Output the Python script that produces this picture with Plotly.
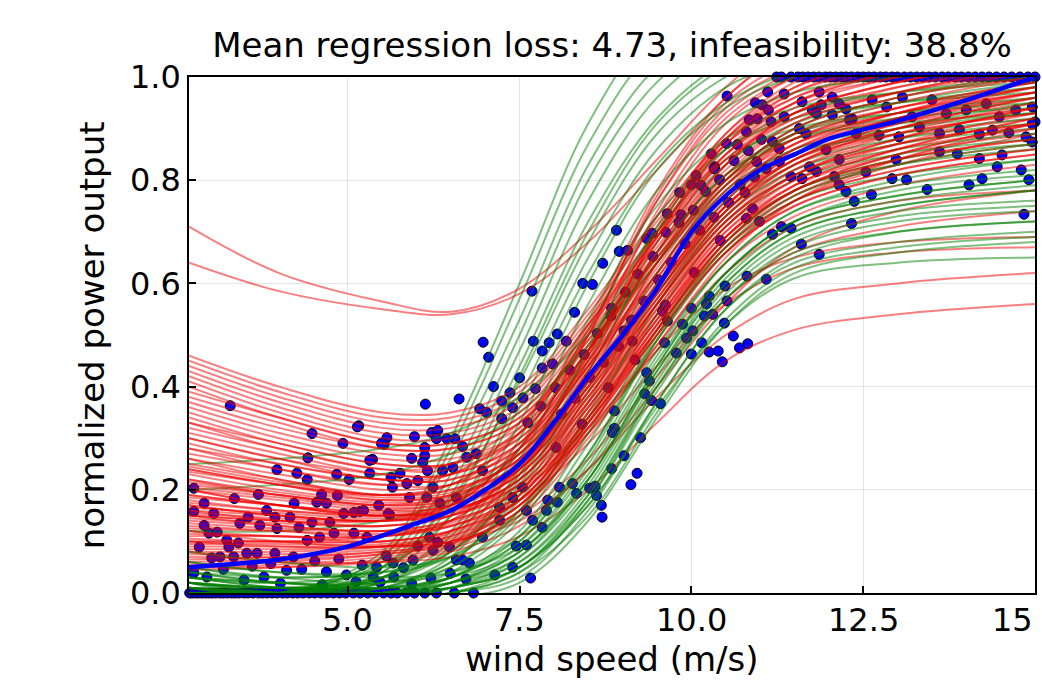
import plotly.graph_objects as go

# ---------------- data ----------------
knots_x = [2.69, 4.0, 5.5, 6.5, 7.5, 8.5, 9.5, 10.5, 11.5, 13.0, 15.0]

red_curves = [
    [0.71, 0.62, 0.565, 0.545, 0.59, 0.70, 0.84, 0.98, 1.08, 1.15, 1.20],
    [0.64, 0.585, 0.55, 0.54, 0.58, 0.68, 0.82, 0.96, 1.06, 1.12, 1.18],
    [0.20, 0.17, 0.15, 0.17, 0.28, 0.50, 0.77, 0.95, 1.03, 1.08, 1.10],
    [0.26, 0.22, 0.19, 0.21, 0.31, 0.51, 0.76, 0.93, 1.01, 1.06, 1.08],
    [0.12, 0.11, 0.11, 0.14, 0.25, 0.47, 0.74, 0.92, 1.00, 1.05, 1.08],
    [0.33, 0.28, 0.24, 0.25, 0.33, 0.50, 0.73, 0.91, 1.00, 1.06, 1.10],
    [0.17, 0.15, 0.14, 0.16, 0.26, 0.46, 0.71, 0.89, 0.98, 1.03, 1.06],
    [0.08, 0.08, 0.09, 0.12, 0.23, 0.44, 0.70, 0.88, 0.97, 1.02, 1.05],
    [0.30, 0.26, 0.22, 0.23, 0.31, 0.47, 0.69, 0.87, 0.96, 1.02, 1.06],
    [0.22, 0.19, 0.17, 0.19, 0.28, 0.46, 0.70, 0.89, 0.99, 1.05, 1.08],
    [0.28, 0.24, 0.21, 0.23, 0.32, 0.52, 0.78, 0.96, 1.05, 1.10, 1.12],
    [0.15, 0.14, 0.14, 0.17, 0.28, 0.50, 0.76, 0.94, 1.02, 1.07, 1.10],
    [0.46, 0.40, 0.35, 0.35, 0.40, 0.55, 0.73, 0.88, 0.96, 1.01, 1.05],
    [0.44, 0.38, 0.33, 0.33, 0.38, 0.53, 0.70, 0.85, 0.93, 0.98, 1.02],
    [0.42, 0.36, 0.31, 0.31, 0.36, 0.52, 0.70, 0.86, 0.95, 1.01, 1.06],
    [0.40, 0.34, 0.29, 0.29, 0.34, 0.49, 0.66, 0.81, 0.89, 0.94, 0.98],
    [0.38, 0.33, 0.28, 0.28, 0.33, 0.49, 0.67, 0.83, 0.92, 0.98, 1.03],
    [0.36, 0.31, 0.27, 0.27, 0.32, 0.47, 0.64, 0.79, 0.87, 0.92, 0.96],
    [0.35, 0.30, 0.26, 0.26, 0.31, 0.47, 0.65, 0.82, 0.91, 0.97, 1.02],
    [0.34, 0.29, 0.25, 0.25, 0.30, 0.45, 0.62, 0.78, 0.86, 0.91, 0.95],
    [0.32, 0.28, 0.24, 0.24, 0.30, 0.46, 0.64, 0.80, 0.90, 0.96, 1.01],
    [0.31, 0.27, 0.23, 0.23, 0.29, 0.44, 0.61, 0.77, 0.85, 0.90, 0.94],
    [0.29, 0.25, 0.22, 0.22, 0.28, 0.44, 0.62, 0.79, 0.88, 0.94, 0.99],
    [0.27, 0.24, 0.21, 0.21, 0.27, 0.42, 0.59, 0.75, 0.84, 0.89, 0.93],
    [0.25, 0.22, 0.19, 0.20, 0.26, 0.42, 0.60, 0.77, 0.87, 0.93, 0.98],
    [0.24, 0.21, 0.18, 0.19, 0.25, 0.40, 0.57, 0.73, 0.82, 0.88, 0.92],
    [0.23, 0.20, 0.18, 0.19, 0.25, 0.41, 0.59, 0.76, 0.86, 0.92, 0.97],
    [0.21, 0.19, 0.17, 0.18, 0.24, 0.39, 0.56, 0.72, 0.81, 0.87, 0.91],
    [0.20, 0.18, 0.16, 0.17, 0.24, 0.40, 0.58, 0.75, 0.85, 0.92, 0.98],
    [0.19, 0.17, 0.15, 0.17, 0.23, 0.39, 0.57, 0.74, 0.84, 0.91, 0.96],
    [0.18, 0.16, 0.15, 0.16, 0.22, 0.37, 0.54, 0.70, 0.79, 0.85, 0.89],
    [0.16, 0.15, 0.14, 0.16, 0.22, 0.38, 0.56, 0.73, 0.83, 0.90, 0.96],
    [0.15, 0.14, 0.13, 0.15, 0.21, 0.36, 0.53, 0.69, 0.78, 0.84, 0.88],
    [0.14, 0.13, 0.12, 0.14, 0.20, 0.36, 0.54, 0.71, 0.81, 0.88, 0.94],
    [0.13, 0.12, 0.11, 0.13, 0.19, 0.34, 0.51, 0.67, 0.76, 0.82, 0.86],
    [0.11, 0.11, 0.10, 0.12, 0.18, 0.34, 0.52, 0.69, 0.79, 0.86, 0.92],
    [0.10, 0.10, 0.10, 0.12, 0.18, 0.33, 0.50, 0.66, 0.75, 0.81, 0.85],
    [0.09, 0.09, 0.09, 0.11, 0.17, 0.33, 0.51, 0.68, 0.78, 0.85, 0.91],
    [0.07, 0.07, 0.08, 0.10, 0.17, 0.32, 0.50, 0.67, 0.77, 0.84, 0.90],
    [0.06, 0.065, 0.075, 0.095, 0.16, 0.31, 0.48, 0.64, 0.73, 0.79, 0.83],
    [0.05, 0.055, 0.07, 0.09, 0.16, 0.31, 0.49, 0.66, 0.76, 0.83, 0.89],
    [0.045, 0.05, 0.065, 0.085, 0.15, 0.30, 0.48, 0.65, 0.76, 0.84, 0.91],
    [0.08, 0.06, 0.06, 0.07, 0.11, 0.20, 0.33, 0.45, 0.51, 0.54, 0.56],
    [0.12, 0.10, 0.09, 0.10, 0.14, 0.24, 0.38, 0.50, 0.57, 0.60, 0.62],
    [0.15, 0.13, 0.12, 0.13, 0.18, 0.29, 0.44, 0.56, 0.63, 0.66, 0.67],
    [0.20, 0.17, 0.15, 0.16, 0.21, 0.32, 0.47, 0.59, 0.65, 0.68, 0.69],
    [0.10, 0.09, 0.09, 0.10, 0.15, 0.26, 0.42, 0.57, 0.66, 0.71, 0.74],
    [0.17, 0.15, 0.14, 0.15, 0.20, 0.31, 0.47, 0.62, 0.71, 0.76, 0.78],
    [0.05, 0.05, 0.06, 0.08, 0.13, 0.24, 0.40, 0.56, 0.67, 0.74, 0.78],
    [0.45, 0.39, 0.34, 0.34, 0.39, 0.54, 0.72, 0.87, 0.95, 1.00, 1.04],
    [0.43, 0.37, 0.32, 0.32, 0.37, 0.52, 0.69, 0.84, 0.92, 0.97, 1.01],
    [0.41, 0.35, 0.30, 0.30, 0.35, 0.51, 0.69, 0.85, 0.94, 1.00, 1.04],
    [0.39, 0.34, 0.29, 0.29, 0.34, 0.50, 0.68, 0.84, 0.93, 0.99, 1.03],
    [0.37, 0.32, 0.28, 0.28, 0.33, 0.48, 0.65, 0.80, 0.88, 0.93, 0.97],
    [0.33, 0.29, 0.25, 0.25, 0.31, 0.47, 0.66, 0.83, 0.93, 0.99, 1.04],
    [0.30, 0.26, 0.23, 0.23, 0.29, 0.45, 0.64, 0.81, 0.91, 0.97, 1.02],
    [0.28, 0.25, 0.22, 0.22, 0.28, 0.44, 0.63, 0.80, 0.90, 0.96, 1.00],
    [0.26, 0.23, 0.20, 0.21, 0.27, 0.43, 0.62, 0.79, 0.89, 0.95, 1.00],
    [0.245, 0.215, 0.19, 0.20, 0.26, 0.42, 0.61, 0.78, 0.88, 0.94, 0.99],
    [0.235, 0.21, 0.185, 0.195, 0.26, 0.41, 0.59, 0.75, 0.84, 0.90, 0.94],
    [0.22, 0.195, 0.175, 0.185, 0.25, 0.41, 0.60, 0.77, 0.87, 0.93, 0.98],
    [0.215, 0.19, 0.17, 0.18, 0.24, 0.40, 0.58, 0.74, 0.83, 0.89, 0.93],
    [0.205, 0.185, 0.165, 0.175, 0.24, 0.40, 0.59, 0.76, 0.86, 0.93, 0.99],
    [0.185, 0.17, 0.155, 0.17, 0.23, 0.39, 0.58, 0.75, 0.85, 0.92, 0.97],
    [0.175, 0.16, 0.15, 0.165, 0.23, 0.38, 0.56, 0.72, 0.81, 0.87, 0.91],
    [0.165, 0.155, 0.145, 0.16, 0.22, 0.38, 0.57, 0.74, 0.84, 0.91, 0.97],
    [0.155, 0.145, 0.14, 0.155, 0.22, 0.37, 0.55, 0.71, 0.80, 0.86, 0.90],
    [0.145, 0.135, 0.13, 0.15, 0.21, 0.37, 0.56, 0.73, 0.83, 0.90, 0.96],
    [0.135, 0.125, 0.12, 0.14, 0.20, 0.36, 0.55, 0.72, 0.82, 0.89, 0.95],
    [0.125, 0.12, 0.115, 0.135, 0.20, 0.35, 0.53, 0.69, 0.78, 0.84, 0.88],
    [0.115, 0.11, 0.11, 0.13, 0.19, 0.35, 0.54, 0.71, 0.81, 0.88, 0.94],
    [0.105, 0.10, 0.10, 0.12, 0.19, 0.34, 0.52, 0.68, 0.77, 0.83, 0.87],
    [0.095, 0.095, 0.095, 0.115, 0.18, 0.34, 0.53, 0.70, 0.80, 0.87, 0.93],
    [0.085, 0.085, 0.09, 0.11, 0.18, 0.33, 0.51, 0.67, 0.76, 0.82, 0.86],
    [0.075, 0.075, 0.085, 0.105, 0.17, 0.33, 0.52, 0.69, 0.79, 0.86, 0.92],
    [0.065, 0.07, 0.08, 0.10, 0.17, 0.32, 0.50, 0.66, 0.75, 0.81, 0.85],
    [0.055, 0.06, 0.075, 0.095, 0.16, 0.32, 0.51, 0.68, 0.78, 0.85, 0.91],
    [0.19, 0.17, 0.16, 0.18, 0.27, 0.45, 0.68, 0.87, 0.97, 1.03, 1.07],
    [0.24, 0.21, 0.19, 0.21, 0.29, 0.47, 0.69, 0.88, 0.98, 1.04, 1.07],
    [0.10, 0.10, 0.11, 0.14, 0.24, 0.43, 0.66, 0.85, 0.95, 1.01, 1.04],
    [0.16, 0.14, 0.13, 0.15, 0.24, 0.42, 0.64, 0.83, 0.93, 0.99, 1.03],
]

green_curves = [
    [0.00, 0.00, 0.08, 0.30, 0.60, 0.91, 1.10, 1.16, 1.18, 1.19, 1.20],
    [0.01, 0.00, 0.07, 0.28, 0.57, 0.87, 1.06, 1.13, 1.16, 1.18, 1.19],
    [0.02, 0.00, 0.07, 0.26, 0.53, 0.83, 1.02, 1.10, 1.12, 1.14, 1.15],
    [0.00, 0.00, 0.06, 0.23, 0.50, 0.80, 0.99, 1.08, 1.11, 1.13, 1.14],
    [0.01, 0.00, 0.05, 0.21, 0.47, 0.76, 0.96, 1.06, 1.10, 1.12, 1.13],
    [0.00, -0.01, 0.04, 0.19, 0.44, 0.72, 0.92, 1.03, 1.08, 1.10, 1.11],
    [0.00, 0.00, 0.04, 0.17, 0.42, 0.70, 0.91, 1.02, 1.07, 1.10, 1.12],
    [0.03, 0.02, 0.05, 0.18, 0.41, 0.68, 0.89, 1.00, 1.05, 1.08, 1.10],
    [0.00, 0.00, 0.03, 0.15, 0.38, 0.65, 0.86, 0.98, 1.03, 1.06, 1.08],
    [0.05, 0.03, 0.05, 0.15, 0.36, 0.62, 0.83, 0.95, 1.01, 1.04, 1.06],
    [0.02, 0.01, 0.03, 0.12, 0.33, 0.60, 0.82, 0.94, 1.00, 1.03, 1.05],
    [0.25, 0.26, 0.28, 0.31, 0.38, 0.50, 0.65, 0.80, 0.90, 0.96, 1.00],
    [0.20, 0.21, 0.23, 0.27, 0.35, 0.48, 0.64, 0.79, 0.89, 0.95, 0.99],
    [0.12, 0.12, 0.14, 0.18, 0.27, 0.41, 0.58, 0.74, 0.84, 0.90, 0.95],
    [0.01, 0.00, 0.03, 0.11, 0.30, 0.56, 0.78, 0.91, 0.97, 1.00, 1.02],
    [0.00, 0.00, 0.02, 0.10, 0.28, 0.53, 0.75, 0.88, 0.94, 0.97, 0.99],
    [0.02, 0.01, 0.02, 0.09, 0.26, 0.51, 0.73, 0.86, 0.92, 0.95, 0.97],
    [0.00, 0.00, 0.02, 0.08, 0.24, 0.48, 0.71, 0.86, 0.93, 0.97, 1.00],
    [0.00, -0.01, 0.01, 0.07, 0.23, 0.47, 0.70, 0.84, 0.90, 0.93, 0.95],
    [0.02, 0.01, 0.03, 0.08, 0.22, 0.45, 0.68, 0.83, 0.91, 0.95, 0.98],
    [0.04, 0.03, 0.04, 0.08, 0.21, 0.43, 0.66, 0.81, 0.89, 0.93, 0.96],
    [0.04, 0.02, 0.02, 0.06, 0.20, 0.43, 0.66, 0.81, 0.88, 0.91, 0.93],
    [0.00, -0.01, 0.01, 0.06, 0.19, 0.41, 0.64, 0.80, 0.88, 0.92, 0.94],
    [0.06, 0.04, 0.04, 0.07, 0.18, 0.39, 0.62, 0.78, 0.86, 0.90, 0.93],
    [0.01, 0.00, 0.01, 0.05, 0.16, 0.37, 0.60, 0.76, 0.85, 0.89, 0.92],
    [0.03, 0.02, 0.02, 0.05, 0.15, 0.35, 0.58, 0.74, 0.83, 0.88, 0.91],
    [0.08, 0.06, 0.05, 0.07, 0.16, 0.34, 0.56, 0.72, 0.81, 0.86, 0.89],
    [0.00, 0.00, 0.00, 0.04, 0.14, 0.33, 0.56, 0.73, 0.82, 0.87, 0.90],
    [0.00, 0.00, 0.00, 0.03, 0.12, 0.31, 0.54, 0.71, 0.80, 0.85, 0.88],
    [0.02, 0.01, 0.01, 0.03, 0.11, 0.29, 0.51, 0.68, 0.78, 0.83, 0.86],
    [0.01, 0.00, 0.00, 0.03, 0.10, 0.27, 0.50, 0.68, 0.78, 0.84, 0.87],
    [0.05, 0.03, 0.02, 0.04, 0.11, 0.27, 0.49, 0.66, 0.76, 0.81, 0.84],
    [0.00, -0.01, -0.01, 0.02, 0.09, 0.25, 0.47, 0.64, 0.74, 0.79, 0.82],
    [0.01, 0.00, 0.00, 0.02, 0.08, 0.23, 0.45, 0.62, 0.72, 0.77, 0.80],
    [0.02, 0.00, -0.01, 0.01, 0.07, 0.22, 0.44, 0.62, 0.72, 0.78, 0.81],
    [0.03, 0.01, 0.00, 0.02, 0.08, 0.22, 0.43, 0.60, 0.70, 0.75, 0.78],
    [0.00, -0.01, -0.02, -0.01, 0.02, 0.14, 0.34, 0.52, 0.62, 0.66, 0.68],
    [0.01, -0.01, -0.01, 0.00, 0.03, 0.16, 0.37, 0.55, 0.65, 0.70, 0.72],
    [0.00, 0.00, -0.01, 0.00, 0.04, 0.18, 0.40, 0.58, 0.68, 0.73, 0.75],
    [0.00, -0.01, -0.01, 0.00, 0.05, 0.18, 0.39, 0.57, 0.67, 0.72, 0.74],
    [0.02, 0.00, 0.00, 0.01, 0.05, 0.19, 0.41, 0.59, 0.69, 0.74, 0.76],
    [0.00, -0.01, -0.01, 0.01, 0.06, 0.20, 0.42, 0.60, 0.70, 0.75, 0.78],
    [0.04, 0.02, 0.01, 0.02, 0.06, 0.19, 0.40, 0.57, 0.66, 0.70, 0.72],
    [0.03, 0.01, 0.00, 0.01, 0.05, 0.17, 0.37, 0.55, 0.64, 0.68, 0.70],
    [0.00, 0.00, 0.00, 0.01, 0.05, 0.17, 0.36, 0.52, 0.61, 0.64, 0.65],
    [0.01, 0.00, -0.01, 0.00, 0.04, 0.15, 0.35, 0.53, 0.63, 0.67, 0.69],
    [0.02, 0.01, 0.01, 0.03, 0.08, 0.22, 0.44, 0.62, 0.72, 0.77, 0.80],
    [0.00, 0.00, 0.00, 0.02, 0.07, 0.21, 0.43, 0.61, 0.71, 0.76, 0.79],
    [0.06, 0.04, 0.03, 0.04, 0.09, 0.24, 0.46, 0.64, 0.74, 0.80, 0.84],
    [0.03, 0.02, 0.01, 0.03, 0.10, 0.26, 0.49, 0.67, 0.77, 0.83, 0.87],
]

mean_x = [2.69, 4.0, 5.0, 6.0, 6.5, 7.0, 7.5, 8.0, 8.5, 9.0, 9.5, 10.0, 10.5, 11.0, 11.5, 12.0, 13.0, 14.0, 15.0]
mean_y = [0.05, 0.065, 0.09, 0.135, 0.16, 0.20, 0.25, 0.33, 0.42, 0.50, 0.59, 0.70, 0.77, 0.82, 0.85, 0.88, 0.915, 0.955, 1.0]

# observations resting on the lower bound (y = 0)
floor_x = [2.70, 2.74, 2.79, 2.83, 2.88, 2.93, 2.98, 3.03, 3.08, 3.14, 3.19, 3.25, 3.31, 3.36,
           3.42, 3.49, 3.55, 3.62, 3.70, 3.76, 3.83, 3.90, 3.97, 4.05, 4.12, 4.20, 4.27, 4.35,
           4.44, 4.52, 4.61, 4.70, 4.79, 4.88, 4.97, 5.08, 5.18, 5.29, 5.40, 5.52, 5.63, 5.72,
           5.85, 5.97, 6.12, 6.29, 6.55, 6.83]
# observations resting on the upper bound (y = 1)
ceil_x = [11.24, 11.31, 11.45, 11.55, 11.62, 11.70, 11.78, 11.86, 11.95, 12.02, 12.10, 12.18,
          12.25, 12.33, 12.42, 12.50, 12.58, 12.66, 12.75, 12.83, 12.92, 13.00, 13.10, 13.19,
          13.28, 13.37, 13.46, 13.55, 13.65, 13.74, 13.84, 13.93, 14.03, 14.13, 14.23, 14.33,
          14.44, 14.55, 14.66, 14.78, 14.90, 15.00]

cloud_points = [
    (3.29, 0.363), (4.48, 0.309), (5.16, 0.324), (4.93, 0.29), (5.57, 0.301), (5.53, 0.288),
    (4.42, 0.262), (5.36, 0.259), (3.97, 0.239), (4.26, 0.232), (4.41, 0.22), (4.84, 0.23),
    (5.02, 0.22), (5.32, 0.232), (5.63, 0.224), (5.76, 0.232), (2.76, 0.203), (3.35, 0.183),
    (3.70, 0.191), (4.22, 0.174), (4.62, 0.191), (4.69, 0.174), (4.85, 0.189), (4.55, 0.176),
    (2.91, 0.174), (2.76, 0.158), (3.05, 0.154), (3.82, 0.160), (3.94, 0.147), (4.16, 0.147),
    (3.55, 0.147), (4.48, 0.137), (4.74, 0.137), (4.94, 0.154), (5.18, 0.158), (5.45, 0.17),
    (5.61, 0.151), (2.91, 0.131), (3.72, 0.131), (4.29, 0.127), (3.43, 0.135), (2.98, 0.116),
    (3.10, 0.118), (3.97, 0.125), (4.59, 0.108), (4.80, 0.116), (5.09, 0.116), (5.28, 0.108),
    (3.24, 0.102), (3.41, 0.097), (4.41, 0.102), (2.84, 0.089), (3.27, 0.089), (3.53, 0.077),
    (3.68, 0.077), (3.94, 0.077), (3.14, 0.07), (3.34, 0.07), (4.21, 0.07), (3.02, 0.068),
    (2.76, 0.039), (4.11, 0.044), (4.69, 0.041), (4.98, 0.035), (5.37, 0.031), (5.47, 0.021),
    (5.67, 0.031), (3.78, 0.031), (3.49, 0.025), (2.95, 0.031), (3.61, 0.052), (3.88, 0.057),
    (4.33, 0.046), (4.52, 0.062), (4.87, 0.066), (5.21, 0.054), (5.56, 0.072), (5.81, 0.049),
    (6.02, 0.091), (6.31, 0.098), (6.49, 0.038), (3.19, 0.046), (4.02, 0.019), (4.63, 0.016),
    (5.12, 0.022), (5.93, 0.018), (6.21, 0.029), (6.72, 0.027),
    (6.97, 0.486), (7.05, 0.457), (7.12, 0.40), (6.13, 0.366), (6.62, 0.376), (7.70, 0.488),
    (7.83, 0.469), (7.93, 0.485), (8.05, 0.502), (8.18, 0.488), (7.50, 0.417), (7.73, 0.396),
    (7.36, 0.388), (7.24, 0.372), (6.92, 0.357), (7.02, 0.35), (7.24, 0.338), (7.40, 0.359),
    (7.55, 0.378), (7.98, 0.444), (7.83, 0.436), (5.14, 0.322), (5.49, 0.29), (5.97, 0.303),
    (6.22, 0.311), (6.31, 0.315), (6.29, 0.299), (6.44, 0.299), (6.56, 0.299), (6.67, 0.284),
    (6.12, 0.282), (6.12, 0.266), (5.93, 0.261), (6.09, 0.253), (6.16, 0.237), (6.38, 0.237),
    (6.53, 0.243), (6.73, 0.263), (6.87, 0.27), (6.96, 0.237), (5.32, 0.257), (5.86, 0.212),
    (5.65, 0.205), (6.02, 0.218), (6.24, 0.205), (5.90, 0.185), (6.15, 0.185), (6.34, 0.174),
    (6.58, 0.185), (5.23, 0.16), (5.09, 0.156), (5.59, 0.154), (7.68, 0.585), (8.42, 0.60),
    (8.56, 0.598), (8.71, 0.639), (8.30, 0.544),
    (7.21, 0.166), (7.40, 0.185), (7.54, 0.205), (7.83, 0.127), (7.60, 0.093), (7.40, 0.05),
    (7.14, 0.035), (7.66, 0.029), (6.77, 0.058), (6.58, 0.064), (6.24, 0.083), (5.95, 0.064),
    (5.66, 0.058), (5.42, 0.05), (8.08, 0.205), (8.27, 0.212), (8.05, 0.176), (8.33, 0.193),
    (8.52, 0.203), (8.62, 0.189), (8.69, 0.17), (8.70, 0.147), (8.60, 0.207), (7.45, 0.091),
    (7.89, 0.160), (7.91, 0.18), (7.60, 0.16), (7.69, 0.141), (7.21, 0.141), (6.96, 0.108),
    (6.67, 0.064), (6.48, 0.089), (6.19, 0.108),
    (10.61, 0.498), (10.26, 0.467), (10.39, 0.469), (10.45, 0.448), (10.70, 0.475), (10.82, 0.483),
    (10.0, 0.463), (9.78, 0.465), (9.93, 0.494), (10.15, 0.485), (9.35, 0.427), (9.39, 0.411),
    (9.32, 0.386), (9.42, 0.373), (9.55, 0.367), (8.88, 0.353), (8.88, 0.319), (8.85, 0.311),
    (9.26, 0.301), (9.02, 0.266), (8.84, 0.241), (9.21, 0.232), (9.12, 0.21),
    (8.91, 0.703), (8.95, 0.662), (9.07, 0.664), (9.83, 0.776), (9.65, 0.735), (9.85, 0.733),
    (9.35, 0.687), (9.43, 0.697), (10.07, 0.809), (10.0, 0.791), (10.14, 0.79), (10.34, 0.826),
    (10.49, 0.595), (10.26, 0.575), (10.22, 0.56), (10.0, 0.552), (10.19, 0.537), (10.31, 0.54),
    (9.87, 0.521), (10.02, 0.508), (10.48, 0.523), (10.52, 0.566), (9.61, 0.485), (9.58, 0.546),
    (9.65, 0.527), (8.84, 0.552), (9.02, 0.508), (9.14, 0.488),
    (10.52, 0.963), (11.11, 0.971), (11.35, 0.967), (10.93, 0.95), (11.03, 0.946), (11.12, 0.936),
    (10.84, 0.917), (10.96, 0.919), (11.16, 0.913), (10.80, 0.894), (10.51, 0.871), (10.67, 0.869),
    (10.29, 0.851), (10.33, 0.822), (11.61, 0.952), (11.76, 0.936), (11.86, 0.971), (12.05, 0.961),
    (11.89, 0.946), (11.57, 0.90), (11.67, 0.89), (12.05, 0.927), (12.25, 0.938), (12.34, 0.919),
    (11.18, 0.875), (11.28, 0.861), (10.95, 0.836), (11.09, 0.822), (11.28, 0.836), (11.45, 0.807),
    (11.61, 0.803), (11.82, 0.817), (10.89, 0.745), (10.80, 0.726), (10.99, 0.72), (11.18, 0.695),
    (11.31, 0.71), (11.45, 0.707), (11.60, 0.676), (11.86, 0.656), (10.81, 0.614), (11.09, 0.608),
    (12.33, 0.716), (12.37, 0.759), (12.62, 0.772), (12.25, 0.778), (12.15, 0.791), (12.54, 0.816),
    (12.08, 0.807), (12.98, 0.84), (12.92, 0.803), (13.13, 0.801), (13.43, 0.782), (13.61, 0.855),
    (13.87, 0.851), (14.04, 0.791), (14.19, 0.842), (14.23, 0.803), (14.45, 0.826), (14.52, 0.849),
    (14.80, 0.82), (14.91, 0.801), (14.84, 0.734), (14.96, 0.874), (15.0, 0.913),
    (11.35, 0.923), (11.82, 0.929), (12.15, 0.948), (12.30, 0.917), (12.63, 0.956), (12.84, 0.942),
    (13.07, 0.961), (13.21, 0.923), (13.50, 0.956), (13.71, 0.929), (14.0, 0.936), (14.29, 0.948),
    (14.48, 0.923), (14.72, 0.936), (14.96, 0.942), (12.40, 0.89), (12.73, 0.887), (13.02, 0.884),
    (13.32, 0.903), (13.61, 0.891), (13.90, 0.898), (14.19, 0.889), (14.38, 0.897), (14.62, 0.892),
    (14.87, 0.884), (14.96, 0.909), (11.96, 0.859), (12.15, 0.84), (11.72, 0.826),
    (7.62, 0.33), (7.81, 0.362), (8.02, 0.398), (8.11, 0.347), (8.23, 0.432), (8.31, 0.377),
    (8.44, 0.462), (8.52, 0.418), (8.63, 0.503), (8.72, 0.447), (8.83, 0.537), (8.94, 0.478),
    (9.04, 0.583), (9.13, 0.529), (9.22, 0.618), (9.31, 0.566), (9.44, 0.652), (9.52, 0.607),
    (9.63, 0.699), (9.71, 0.641), (9.82, 0.718), (9.91, 0.677), (10.03, 0.742), (10.12, 0.703),
    (10.21, 0.778), (10.33, 0.728), (10.41, 0.801), (10.54, 0.757), (10.62, 0.838), (10.71, 0.792),
    (10.83, 0.857), (10.92, 0.806), (11.02, 0.879), (8.03, 0.282), (8.41, 0.327), (8.79, 0.398),
    (9.18, 0.452), (9.62, 0.558), (10.04, 0.621), (10.42, 0.683), (10.78, 0.776),
]

title_text = "Mean regression loss: 4.73, infeasibility: 38.8%"
x_label = "wind speed (m/s)"
y_label = "normalized power output"
x_tick_vals = [5.0, 7.5, 10.0, 12.5, 15.0]
x_tick_text = ["5.0", "7.5", "10.0", "12.5", "15"]
y_tick_vals = [0.0, 0.2, 0.4, 0.6, 0.8, 1.0]
y_tick_text = ["0.0", "0.2", "0.4", "0.6", "0.8", "1.0"]

# ---------------- figure ----------------
FONT = "DejaVu Sans"
fig = go.Figure()

obs_x = floor_x + ceil_x + [p[0] for p in cloud_points]
obs_y = [0.0] * len(floor_x) + [1.0] * len(ceil_x) + [p[1] for p in cloud_points]
fig.add_trace(go.Scatter(
    x=obs_x, y=obs_y, mode="markers", cliponaxis=False, hoverinfo="skip",
    marker=dict(size=10, color="rgb(0,0,255)", line=dict(color="black", width=1)),
    showlegend=False,
))

# interleave the red and green sample curves
order = []
gi, ri = 0, 0
while gi < len(green_curves) or ri < len(red_curves):
    if gi < len(green_curves):
        order.append(("g", green_curves[gi])); gi += 1
    for _ in range(2):
        if ri < len(red_curves):
            order.append(("r", red_curves[ri])); ri += 1

for kind, ys in order:
    col = "rgba(240,0,0,0.5)" if kind == "r" else "rgba(0,128,0,0.5)"
    fig.add_trace(go.Scatter(
        x=knots_x, y=ys, mode="lines", hoverinfo="skip",
        line=dict(color=col, width=2.0, shape="spline", smoothing=1.0),
        showlegend=False,
    ))

fig.add_trace(go.Scatter(
    x=mean_x, y=mean_y, mode="lines", hoverinfo="skip",
    line=dict(color="rgb(0,0,255)", width=4.5, shape="spline", smoothing=1.0),
    showlegend=False,
))

axis_common = dict(
    showgrid=True, gridcolor="rgba(0,0,0,0.10)", gridwidth=1,
    zeroline=False, showline=True, linecolor="black", linewidth=1.5, mirror=True,
    ticks="inside", ticklen=7, tickwidth=1.5, tickcolor="black",
    tickfont=dict(family=FONT, size=32, color="black"),
)

# x tick labels placed on the x scale (last one kept inside the page, as in the source)
tick_annotations = []
for i, (v, t) in enumerate(zip(x_tick_vals, x_tick_text)):
    last = i == len(x_tick_vals) - 1
    tick_annotations.append(dict(
        text=t, x=v, y=0, xref="x", yref="y",
        xanchor="right" if last else "center", yanchor="middle",
        yshift=-27, showarrow=False,
        font=dict(family=FONT, size=32, color="black"),
    ))

fig.update_layout(
    width=1042, height=681,
    margin=dict(l=189, r=5, t=77, b=88),
    paper_bgcolor="white", plot_bgcolor="white",
    font=dict(family=FONT, color="black"),
    title=dict(text=title_text, x=0.5, xref="paper", xanchor="center",
               y=1 - 45 / 681, yref="container", yanchor="middle",
               font=dict(family=FONT, size=34, color="black")),
    xaxis=dict(range=[2.69, 15.0], tickvals=x_tick_vals, showticklabels=False, **axis_common),
    yaxis=dict(range=[0.0, 1.0], tickvals=y_tick_vals, ticktext=y_tick_text, **axis_common),
    annotations=tick_annotations + [
        dict(text=x_label, xref="paper", yref="paper", x=0.5, y=-(659 - 593) / 516,
             xanchor="center", yanchor="middle", showarrow=False,
             font=dict(family=FONT, size=34, color="black")),
        dict(text=y_label, xref="paper", yref="paper", x=-(189 - 92) / 848, y=0.5,
             xanchor="center", yanchor="middle", textangle=-90, showarrow=False,
             font=dict(family=FONT, size=34, color="black")),
    ],
)

fig.write_html("out.html")
